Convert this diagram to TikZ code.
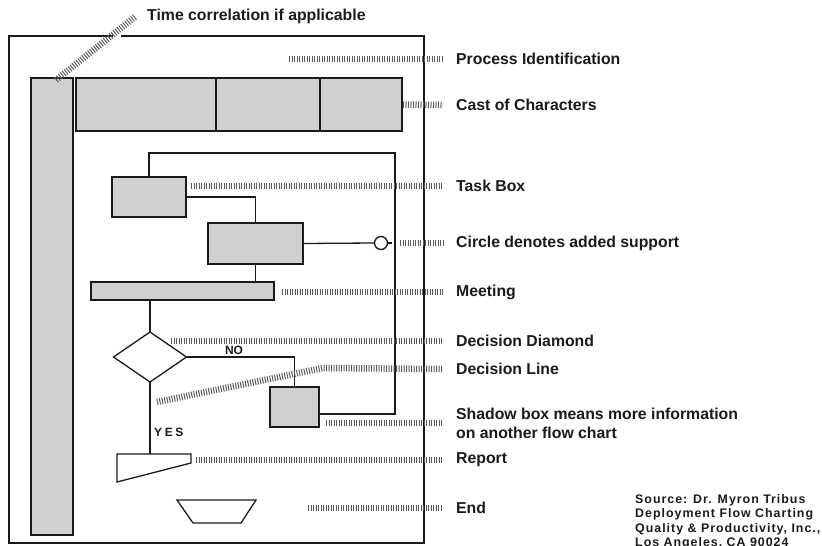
\documentclass[tikz,border=0pt]{standalone}
\usepackage{fontspec}
\setmainfont{Liberation Sans}
\newfontfamily\quellfont[LetterSpace=8]{Liberation Sans}
\newfontfamily\sperrfont[LetterSpace=22]{Liberation Sans}
\usetikzlibrary{shapes.geometric}
\definecolor{kgrau}{HTML}{D0D0D0}
\definecolor{tgrau}{HTML}{5A5A5A}
\definecolor{schwarz}{HTML}{1A1A1A}
\tikzset{
  kasten/.style={draw=schwarz,fill=kgrau,line width=1.3pt,inner sep=0pt,outer sep=0pt,anchor=north west},
  linie/.style={schwarz,line width=1.3pt},
  leiter/.style={tgrau,line width=6.5pt,dash pattern=on 1pt off 1.5pt},
  marke/.style={anchor=west,inner sep=0pt,schwarz,font=\fontsize{15.8}{19}\selectfont\bfseries},
  klein/.style={inner sep=0pt,schwarz,font=\fontsize{12}{14}\selectfont\bfseries},
}

\begin{document}
\begin{tikzpicture}[x=1pt,y=-1pt]
  \useasboundingbox (0,0) rectangle (822,546);
  % Rahmen
  \draw[linie] (9,36) rectangle (424,543);
  % Zeitleiste und Beteiligte
  \node[kasten,minimum width=42pt,minimum height=457pt] (zeit) at (31,78) {};
  \node[kasten,minimum width=140pt,minimum height=53pt] (cast1) at (76,78) {};
  \node[kasten,minimum width=104pt,minimum height=53pt] (cast2) at (cast1.north east) {};
  \node[kasten,minimum width=82pt,minimum height=53pt] (cast3) at (cast2.north east) {};
  % Aufgaben, Sitzung, Entscheidung
  \node[kasten,minimum width=74pt,minimum height=40pt] (task1) at (112,177) {};
  \node[kasten,minimum width=95pt,minimum height=41pt] (task2) at (208,223) {};
  \node[kasten,minimum width=183pt,minimum height=18pt] (meet) at (91,282) {};
  \node[diamond,draw=schwarz,line width=1.3pt,outer sep=0pt,minimum width=73pt,minimum height=50pt,inner sep=0pt] (dec) at (150,357) {};
  \node[kasten,minimum width=49pt,minimum height=40pt] (shadow) at (270,387) {};
  \node[circle,draw=schwarz,fill=white,line width=1.3pt,minimum size=13pt,inner sep=0pt] (hilfe) at (381,243) {};
  \coordinate (hilfe-e) at (392,243);
  \coordinate (ruck) at (395,153);
  \coordinate (rep) at (150,454);
  % Verbindungen
  \draw[linie] (task1.north) |- (ruck) |- ([yshift=-7pt]shadow.east);
  \draw[linie] (task1.east) -| (task2.north);
  \draw[linie] (task2.east) -- (hilfe.west);
  \draw[linie] (hilfe.east) -- (hilfe-e);
  \draw[linie] (task2.south) -- (task2.south |- meet.north);
  \draw[linie] (dec.north |- meet.south) -- (dec.north);
  \draw[linie] (dec.east) -| (shadow.north)
    node[klein,pos=0.22,above=1.5pt] (nein) {NO};
  \draw[linie] (dec.south) -- (rep);
  \node[klein,anchor=west,font=\sperrfont\fontsize{12}{14}\selectfont\bfseries] (ja) at (154,432) {YES};
  % Bericht und Ende
  \draw[linie] (117,454) -- (191,454) -- (191,463) -- (117,482) -- cycle;
  \draw[linie] (177,500) -- (256,500) -- (241,523) -- (193,523) -- cycle;
  % Beschriftungen
  \node[marke] (zk) at (147,16) {Time correlation if applicable};
  \node[marke] (pid) at (456,59) {Process Identification};
  \node[marke] (cc) at (456,105) {Cast of Characters};
  \node[marke] (tb) at (456,186) {Task Box};
  \node[marke] (cd) at (456,243) {Circle denotes added support};
  \node[marke] (mt) at (456,292) {Meeting};
  \node[marke] (dd) at (456,341) {Decision Diamond};
  \node[marke] (dl) at (456,369) {Decision Line};
  \node[marke,align=left] (sb) at (456,423) {Shadow box means more information\\on another flow chart};
  \node[marke] (rp) at (456,460) {Report};
  \node[marke] (en) at (456,508) {End};
  % Hinweisstriche
  \draw[white,line width=4pt] (113,36) -- (121,36);
  \draw[leiter] (56,80) -- ([xshift=-11pt]zk.west);
  \draw[leiter] (289,59) -- ([xshift=-13pt]pid.west);
  \draw[leiter] ([xshift=1pt]cast3.east) -- ([xshift=-13pt]cc.west);
  \draw[leiter] ([xshift=5pt]task1.east |- tb.west) -- ([xshift=-13pt]tb.west);
  \draw[leiter] ([xshift=8pt]hilfe-e) -- ([xshift=-13pt]cd.west);
  \draw[leiter] ([xshift=8pt]meet.east |- mt.west) -- ([xshift=-13pt]mt.west);
  \draw[leiter] ([xshift=3pt]dec.north east |- dd.west) -- ([xshift=-13pt]dd.west);
  \draw[leiter] (157,402) -- (323,368) -- ([xshift=-13pt]dl.west);
  \draw[leiter] ([xshift=7pt]shadow.east |- sb.west) -- ([xshift=-13pt]sb.west);
  \draw[leiter] (196,460) -- ([xshift=-13pt]rp.west);
  \draw[leiter] (308,508) -- ([xshift=-13pt]en.west);
  % Quelle
  \node[anchor=north west,inner sep=0pt,align=left,schwarz,
    font=\quellfont\fontsize{12.4}{14.5}\selectfont\bfseries] (quelle) at (635,494)
    {Source: Dr. Myron Tribus\\Deployment Flow Charting\\Quality \& Productivity, Inc.,\\Los Angeles, CA 90024};
\end{tikzpicture}
\end{document}
